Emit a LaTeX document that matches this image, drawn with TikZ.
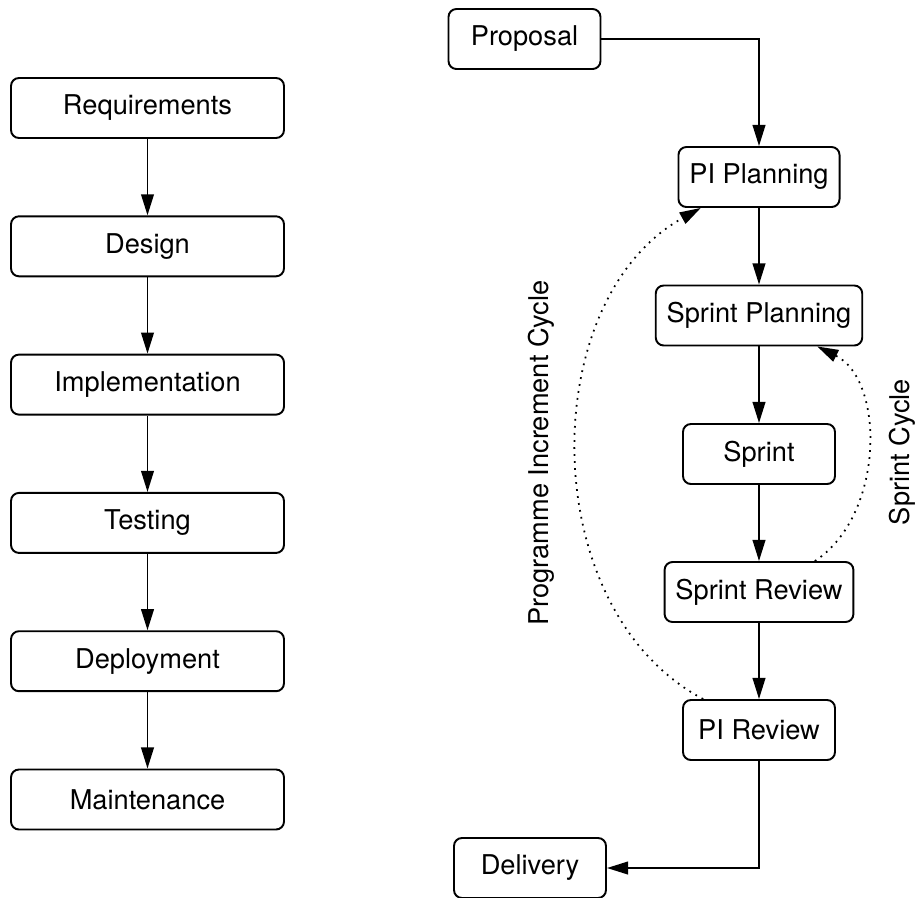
\documentclass[tikz,border=0pt]{standalone}
\usepackage{fontspec}
\setmainfont{TeX Gyre Heros}
\usepackage{tikz}
\usetikzlibrary{arrows.meta,calc,positioning}

\begin{document}
\begin{tikzpicture}[x=0.02cm,y=-0.02cm,
  stage/.style={draw=black, line width=1.1pt, rounded corners=4.5pt,
    minimum height=1.2cm, inner xsep=6.2pt, font=\fontsize{15.5}{18}\selectfont},
  wide/.style={stage, minimum width=5.46cm},
  narrow/.style={stage, minimum width=3.04cm},
  flow/.style={line width=1.1pt, -{Triangle[length=12pt,width=7.2pt]}},
  loop/.style={line width=1pt, dash pattern=on 1pt off 3pt,
    -{Triangle[length=12pt,width=7.2pt]}},
  note/.style={rotate=90, font=\fontsize{15.5}{18}\selectfont}]
\useasboundingbox (0,0) rectangle (920,897);

% Waterfall
\node[wide] (req) at (147.5,108) {Requirements};
\node[wide] (des) at (147.5,246.3) {Design};
\node[wide] (imp) at (147.5,384.6) {Implementation};
\node[wide] (tst) at (147.5,522.9) {Testing};
\node[wide] (dep) at (147.5,661.2) {Deployment};
\node[wide] (mnt) at (147.5,799.5) {Maintenance};

\draw[flow] (req) -- (des);
\draw[flow] (des) -- (imp);
\draw[flow] (imp) -- (tst);
\draw[flow] (tst) -- (dep);
\draw[flow] (dep) -- (mnt);

% Agile
\node[narrow] (prop) at (524.5,39) {Proposal};
\node[narrow] (pip) at (759,177) {PI Planning};
\node[narrow] (spl) at (759,315.5) {Sprint Planning};
\node[narrow] (spr) at (759,454) {Sprint};
\node[narrow] (srv) at (759,592) {Sprint Review};
\node[narrow] (pir) at (759,730) {PI Review};
\node[narrow] (del) at (530,868) {Delivery};

\draw[flow] (prop.east) -| (pip.north);
\draw[flow] (pip) -- (spl);
\draw[flow] (spl) -- (spr);
\draw[flow] (spr) -- (srv);
\draw[flow] (srv) -- (pir);
\draw[flow] (pir.south) |- (del.east);

% Cycles
\draw[loop] (srv.29) .. controls (885,515) and (885,380) .. (spl.-28);
\draw[loop] (pir.151) .. controls (535,610) and (535,300) .. (pip.208);

\node[note] (pilbl) at (541,453) {Programme Increment Cycle};
\node[note] (splbl) at (902,452) {Sprint Cycle};
\end{tikzpicture}
\end{document}
